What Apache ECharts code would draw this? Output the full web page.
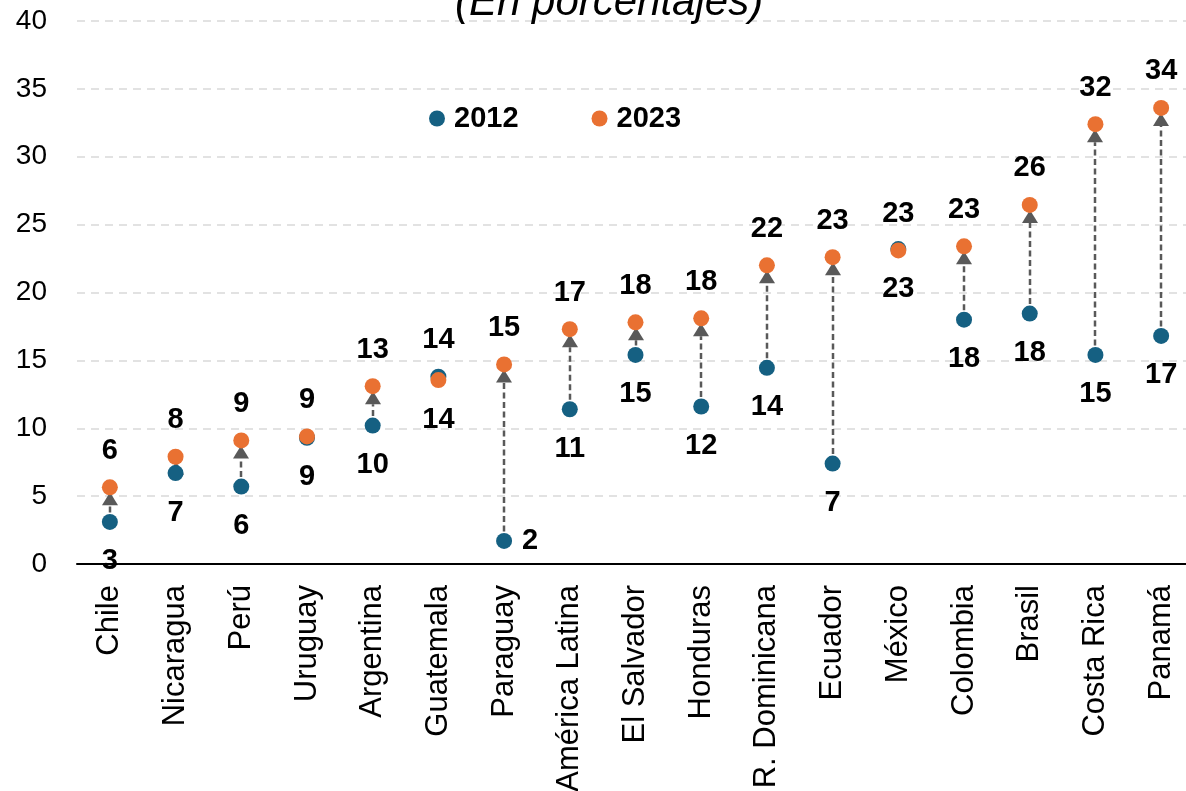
<!DOCTYPE html>
<html>
<head>
<meta charset="utf-8">
<script src="https://cdn.jsdelivr.net/npm/echarts@6/dist/echarts.min.js"></script>
<style>
  html, body { margin: 0; padding: 0; background: #fff; }
  #main { width: 1186px; height: 791px; }
</style>
</head>
<body>
<div id="main"></div>
<script>
var categories = ['Chile', 'Nicaragua', 'Perú', 'Uruguay', 'Argentina', 'Guatemala', 'Paraguay',
    'América Latina', 'El Salvador', 'Honduras', 'R. Dominicana', 'Ecuador', 'México',
    'Colombia', 'Brasil', 'Costa Rica', 'Panamá'];
var values2012 = [3.1, 6.7, 5.7, 9.3, 10.2, 13.8, 1.7, 11.4, 15.4, 11.6, 14.45, 7.4, 23.2, 18.0, 18.45, 15.4, 16.8];
var values2023 = [5.65, 7.9, 9.1, 9.4, 13.1, 13.55, 14.7, 17.3, 17.8, 18.1, 22.0, 22.6, 23.1, 23.4, 26.45, 32.4, 33.6];
var yTicks = { min: 0, max: 40, step: 5 };

var BLUE = '#156082';
var ORANGE = '#E97132';
var ARROW = '#595959';
var FONT = "'Liberation Sans', Arial, sans-serif";

var dom = document.getElementById('main');
var myChart = echarts.init(dom);

var labelStyle = {
    show: true,
    fontFamily: FONT,
    fontSize: 29,
    fontWeight: 'bold',
    color: '#000',
    formatter: function (p) { return Math.round(p.value[1]); }
};

// 2012 labels go below the dot, except where the 2012 value is the higher one
var data2012 = values2012.map(function (v, i) {
    var item = { value: [i, v] };
    if (categories[i] === 'Guatemala') item.label = { position: 'top', distance: 14 };
    if (categories[i] === 'Paraguay') item.label = { position: 'right', distance: 10 };
    return item;
});
var data2023 = values2023.map(function (v, i) {
    var item = { value: [i, v] };
    if (categories[i] === 'Guatemala') item.label = { position: 'bottom', distance: 17 };
    return item;
});
var arrowData = categories.map(function (c, i) {
    return [i, values2012[i], values2023[i]];
});

function renderArrow(params, api) {
    var p1 = api.coord([api.value(0), api.value(1)]);
    var p2 = api.coord([api.value(0), api.value(2)]);
    if (p1[1] - p2[1] < 12) return null;
    var x = Math.round(p1[0]);
    var tip = p2[1] + 5;
    var base = p2[1] + 18;
    return {
        type: 'group',
        children: [
            {
                type: 'line',
                shape: { x1: x, y1: p1[1], x2: x, y2: base },
                style: { stroke: ARROW, lineWidth: 2.5, lineDash: [6, 3.5] }
            },
            {
                type: 'polygon',
                shape: { points: [[x, tip], [x - 8, base], [x + 8, base]] },
                style: { fill: ARROW }
            }
        ]
    };
}

var option = {
    backgroundColor: '#fff',
    animation: false,
    textStyle: { fontFamily: FONT },
    title: {
        text: '(En porcentajes)',
        left: 455,
        top: -18,
        padding: 0,
        textStyle: { fontFamily: FONT, fontSize: 42, fontStyle: 'italic', fontWeight: 'normal', color: '#000' }
    },
    legend: {
        data: ['2012', '2023'],
        left: 424,
        top: 99,
        icon: 'circle',
        itemWidth: 16,
        itemHeight: 16,
        itemGap: 73,
        textStyle: { fontFamily: FONT, fontSize: 29, fontWeight: 'bold', color: '#000', padding: [0, 0, 0, 4] }
    },
    grid: { left: 77, right: -8, top: 21, bottom: 227, outerBoundsMode: 'none' },
    xAxis: {
        type: 'category',
        data: categories,
        boundaryGap: true,
        axisLine: { lineStyle: { color: '#000', width: 2 } },
        axisTick: { show: false },
        axisLabel: { interval: 0, rotate: 90, margin: 21, fontFamily: FONT, fontSize: 31, color: '#000' }
    },
    yAxis: {
        type: 'value',
        min: yTicks.min,
        max: yTicks.max,
        interval: yTicks.step,
        axisLine: { show: false },
        axisTick: { show: false },
        axisLabel: { margin: 30, fontFamily: FONT, fontSize: 28, color: '#000' },
        splitLine: { lineStyle: { color: '#d9d9d9', width: 1.5, type: [8, 6] } }
    },
    series: [
        {
            name: 'arrows',
            type: 'custom',
            renderItem: renderArrow,
            data: arrowData,
            encode: { x: 0, y: [1, 2] },
            z: 1,
            silent: true
        },
        {
            name: '2012',
            type: 'scatter',
            symbol: 'circle',
            symbolSize: 16,
            itemStyle: { color: BLUE, opacity: 1 },
            label: Object.assign({}, labelStyle, { position: 'bottom', distance: 17 }),
            data: data2012,
            z: 2
        },
        {
            name: '2023',
            type: 'scatter',
            symbol: 'circle',
            symbolSize: 16,
            itemStyle: { color: ORANGE, opacity: 1 },
            label: Object.assign({}, labelStyle, { position: 'top', distance: 14 }),
            data: data2023,
            z: 3
        }
    ]
};

if (option && typeof option === "object") {
    myChart.setOption(option, true);
}
</script>
</body>
</html>
